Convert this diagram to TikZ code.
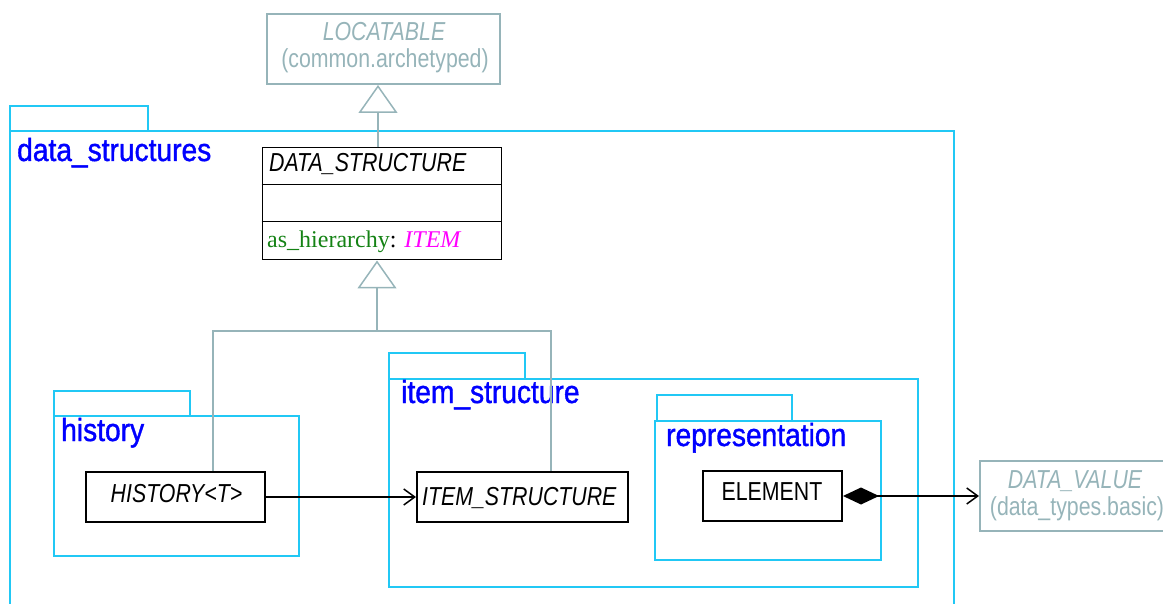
\documentclass[tikz,border=0pt]{standalone}
\usepackage{fontspec}
\setmainfont{Liberation Serif}
\newfontfamily\pkgfont[FakeStretch=0.88,FakeBold=1.2]{Liberation Sans}
\newfontfamily\clsfont[FakeStretch=0.82]{Liberation Sans}
\usetikzlibrary{arrows.meta,calc}
\definecolor{pkgcyan}{RGB}{33,200,245}
\definecolor{extgray}{RGB}{150,180,185}
\definecolor{attrgreen}{RGB}{20,130,20}
\definecolor{typemag}{RGB}{255,0,255}
\definecolor{pkgblue}{RGB}{0,0,255}
\begin{document}
\begin{tikzpicture}[x=1pt,y=-1pt,
  pkg/.style={draw=pkgcyan, line width=2pt},
  pkglabel/.style={anchor=base west, inner sep=0, text=pkgblue, font=\pkgfont\fontsize{32}{32}\selectfont},
  clsbox/.style={draw=black, line width=2pt, inner sep=0},
  clstext/.style={inner sep=0, font=\clsfont\itshape\fontsize{26}{26}\selectfont},
  uptext/.style={inner sep=0, font=\clsfont\fontsize{26}{26}\selectfont},
  extbox/.style={draw=extgray, line width=2pt, inner sep=0},
  gen/.style={draw=extgray, line width=2pt},
  gentip/.style={-{Triangle[open, length=28pt, width=39pt, line width=1.5pt]}},
  nav/.style={draw=black, line width=2pt, -{Straight Barb[length=11pt, width=16pt, line width=1.5pt]}},
  comp/.style={draw=black, line width=2pt, {Diamond[length=36pt, width=17pt]}-{Straight Barb[length=11pt, width=16pt, line width=1.5pt]}}
]
\useasboundingbox (0,0) rectangle (1163,604);

% packages
\draw[pkg] (10,131) rectangle (148,106);
\draw[pkg] (10,612) -- (10,131) -- (954,131) -- (954,612);
\node[pkglabel] (lds) at (17,161) {data\_structures};

\draw[pkg] (54,416) rectangle (190,391);
\draw[pkg] (54,416) rectangle (299,556);
\node[pkglabel] (lhist) at (61,441) {history};

\draw[pkg] (389,379) rectangle (525,353);
\draw[pkg] (389,379) rectangle (918,587);
\node[pkglabel] (litem) at (401,403) {item\_structure};

\draw[pkg] (657,421) rectangle (792,395);
\draw[pkg] (655,421) rectangle (881,560);
\node[pkglabel] (lrep) at (666,446) {representation};

% classes
\node[extbox, minimum width=233pt, minimum height=70pt] (loc) at (383.5,49) {};
\node[clstext, text=extgray, anchor=base] (loct) at (384,41) {LOCATABLE};
\node[uptext, text=extgray, anchor=base] (locp) at (385,68) {(common.archetyped)};

\node[draw=black, line width=1pt, inner sep=0, minimum width=239pt, minimum height=112pt] (ds) at (381.5,204) {};
\draw[line width=1pt] ($(ds.north west)+(0,37)$) -- ($(ds.north east)+(0,37)$);
\draw[line width=1pt] ($(ds.north west)+(0,74)$) -- ($(ds.north east)+(0,74)$);
\node[clstext, anchor=base west] (dst) at (269,172) {DATA\_STRUCTURE};
\node[inner sep=0, anchor=base west, font=\fontsize{24}{24}\selectfont] (dsa) at (267,248)
  {\textcolor{attrgreen}{as\_hierarchy}: \textcolor{typemag}{\itshape ITEM}};

\node[clsbox, minimum width=179pt, minimum height=50pt] (hist) at (175.5,497) {};
\node[clstext, anchor=base] (histt) at (176.5,502) {HISTORY<T>};

\node[clsbox, minimum width=211pt, minimum height=50pt] (item) at (522.5,497) {};
\node[clstext, anchor=base west] (itemt) at (422,505) {ITEM\_STRUCTURE};

\node[clsbox, minimum width=139pt, minimum height=50pt] (elem) at (772.5,496) {};
\node[uptext, anchor=base] (elemt) at (772,500) {ELEMENT};

\node[extbox, minimum width=191pt, minimum height=70pt] (dv) at (1075.5,496) {};
\node[clstext, text=extgray, anchor=base] (dvt) at (1075,488) {DATA\_VALUE};
\node[uptext, text=extgray, anchor=base] (dvp) at (1077,515) {(data\_types.basic)};

% connectors
\coordinate (gx) at (378,0);
\draw[gen, gentip] (gx |- ds.north) -- (gx |- loc.south);
\coordinate (trunk) at (377,331);
\draw[gen] ($(hist.north west)+(128,0)$) |- (trunk);
\draw[gen] ($(item.north west)+(135,0)$) |- (trunk);
\draw[gen, gentip] (trunk) -- (trunk |- ds.south);

\draw[nav] (hist.east) -- (item.west);
\draw[comp] (elem.east) -- (dv.west);
\end{tikzpicture}
\end{document}
